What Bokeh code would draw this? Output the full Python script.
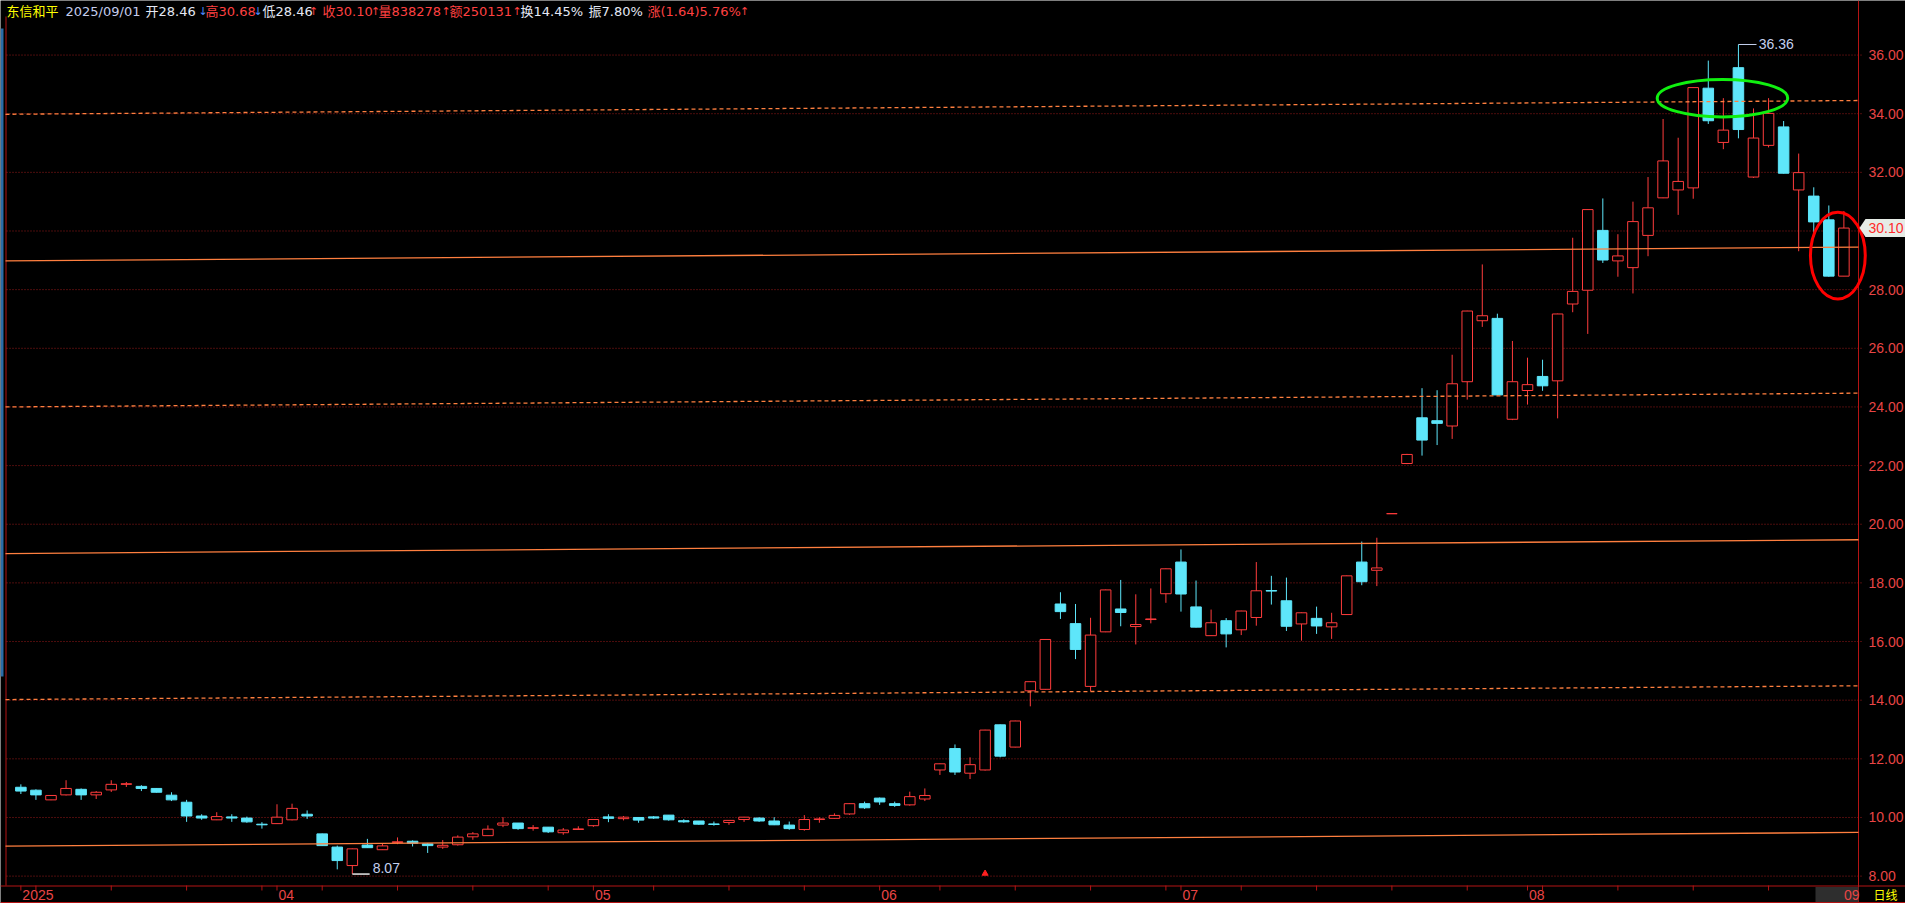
from bokeh.plotting import figure
from bokeh.models import Range1d, ColumnDataSource
from bokeh.core.properties import value
from bokeh.embed import file_html
from bokeh.resources import INLINE

# ---------------- data ----------------
stock_name = "东信和平"
quote_date = "2025/09/01"

opens = [11.03, 10.93, 10.60, 10.77, 10.96, 10.77, 10.94, 11.13, 11.06, 10.99,
         10.76, 10.52, 10.05, 9.92, 10.02, 9.98, 9.77, 9.79, 9.92, 10.11,
         9.44, 8.99, 8.36, 9.06, 8.90, 9.15, 9.19, 9.10, 8.99, 9.07,
         9.34, 9.38, 9.74, 9.81, 9.63, 9.67, 9.48, 9.59, 9.72, 10.02,
         9.96, 10.00, 10.02, 10.08, 9.89, 9.88, 9.78, 9.83, 9.93, 9.98,
         9.88, 9.74, 9.59, 9.93, 9.97, 10.12, 10.47, 10.66, 10.47, 10.43,
         10.63, 11.62, 12.35, 11.51, 11.62, 13.16, 12.40, 14.32, 14.37, 17.28,
         16.61, 14.47, 16.33, 17.11, 16.51, 16.75, 17.63, 18.71, 17.18, 16.20,
         16.71, 16.40, 16.82, 17.74, 17.39, 16.60, 16.79, 16.50, 16.92, 18.71,
         18.43, 20.36, 22.07, 23.63, 23.53, 23.35, 24.86, 26.94, 27.02, 23.58,
         24.56, 25.04, 24.89, 27.51, 27.98, 30.02, 28.98, 28.75, 29.85, 31.13,
         31.40, 31.47, 34.87, 33.02, 35.57, 31.84, 32.92, 33.55, 31.40, 31.19,
         30.38, 28.46]
highs = [11.13, 10.96, 10.76, 11.27, 10.99, 10.90, 11.27, 11.21, 11.10, 11.00,
         10.86, 10.60, 10.11, 10.18, 10.11, 10.03, 9.84, 10.45, 10.47, 10.24,
         9.45, 9.04, 8.94, 9.27, 9.10, 9.32, 9.22, 9.13, 9.23, 9.39,
         9.50, 9.73, 10.01, 9.81, 9.74, 9.67, 9.64, 9.70, 9.94, 10.11,
         10.05, 10.00, 10.05, 10.08, 9.94, 9.88, 9.86, 9.91, 10.02, 10.01,
         10.01, 9.86, 10.08, 10.01, 10.14, 10.48, 10.54, 10.68, 10.54, 10.88,
         10.99, 11.84, 12.49, 12.05, 12.99, 13.17, 13.30, 14.64, 16.08, 17.68,
         17.28, 16.81, 17.77, 18.10, 17.61, 17.81, 18.49, 19.14, 18.08, 17.09,
         16.80, 17.05, 18.71, 18.24, 18.18, 16.99, 17.19, 16.98, 18.25, 19.41,
         19.54, 20.36, 22.40, 24.64, 24.57, 25.78, 27.28, 28.86, 27.18, 26.25,
         25.68, 25.61, 27.18, 29.77, 30.74, 31.11, 29.89, 31.00, 31.84, 33.82,
         33.18, 34.90, 35.81, 34.53, 36.36, 34.18, 34.53, 33.75, 32.64, 31.49,
         30.87, 30.68]
lows = [10.80, 10.60, 10.59, 10.75, 10.60, 10.63, 10.87, 11.04, 10.90, 10.85,
        10.56, 9.85, 9.92, 9.91, 9.85, 9.82, 9.62, 9.78, 9.90, 9.95,
        9.03, 8.23, 8.07, 8.96, 8.89, 9.09, 9.01, 8.79, 8.93, 9.04,
        9.24, 9.37, 9.67, 9.58, 9.55, 9.47, 9.41, 9.58, 9.68, 9.84,
        9.90, 9.82, 9.95, 9.89, 9.82, 9.75, 9.72, 9.75, 9.85, 9.85,
        9.74, 9.58, 9.55, 9.82, 9.96, 10.09, 10.29, 10.43, 10.36, 10.40,
        10.56, 11.45, 11.45, 11.31, 11.60, 12.05, 12.39, 13.79, 14.36, 16.77,
        15.40, 14.30, 16.32, 16.52, 15.90, 16.62, 17.32, 17.02, 16.48, 16.19,
        15.80, 16.22, 16.54, 17.26, 16.36, 16.03, 16.26, 16.09, 16.91, 17.92,
        17.89, 20.36, 22.05, 22.34, 22.70, 22.91, 24.25, 26.73, 24.40, 23.55,
        24.08, 24.55, 23.61, 27.23, 26.49, 28.91, 28.44, 27.87, 29.14, 31.12,
        30.55, 31.10, 33.65, 32.79, 33.16, 31.81, 32.85, 31.96, 29.31, 29.80,
        28.44, 28.46]
closes = [10.90, 10.77, 10.75, 10.99, 10.77, 10.86, 11.13, 11.15, 10.99, 10.86,
          10.60, 10.05, 9.98, 10.03, 9.98, 9.85, 9.75, 10.01, 10.31, 10.05,
          9.04, 8.53, 8.93, 8.97, 9.03, 9.17, 9.12, 9.04, 9.05, 9.33,
          9.44, 9.60, 9.81, 9.62, 9.65, 9.51, 9.57, 9.61, 9.93, 9.97,
          10.01, 9.91, 9.98, 9.92, 9.85, 9.77, 9.76, 9.90, 10.01, 9.88,
          9.75, 9.62, 9.93, 9.95, 10.07, 10.47, 10.33, 10.53, 10.41, 10.71,
          10.75, 11.83, 11.55, 11.80, 12.98, 12.09, 13.29, 14.63, 16.07, 17.02,
          15.73, 16.22, 17.76, 16.99, 16.58, 16.77, 18.48, 17.62, 16.49, 16.64,
          16.26, 17.04, 17.73, 17.72, 16.52, 16.98, 16.53, 16.64, 18.24, 18.04,
          18.51, 20.36, 22.38, 22.87, 23.44, 24.79, 27.27, 27.11, 24.41, 24.86,
          24.76, 24.72, 27.17, 27.94, 30.73, 29.01, 29.15, 30.32, 30.79, 32.39,
          31.69, 34.89, 33.76, 33.44, 33.46, 33.17, 34.01, 31.97, 31.99, 30.31,
          28.46, 30.10]

month_idx = [0, 17, 38, 57, 77, 100, 121]
month_labels = ["2025", "04", "05", "06", "07", "08", "09"]
week_idx = [1, 6, 11, 16, 20, 25, 30, 35, 42, 47, 52, 61, 66, 71, 76, 81, 86,
            91, 96, 101, 106, 111, 116]
price_ticks = [8.0, 10.0, 12.0, 14.0, 16.0, 18.0, 20.0, 22.0, 24.0, 26.0, 28.0,
               30.0, 32.0, 34.0, 36.0]

# parallel channel levels (value at left edge, value at right edge)
channel_left = [9.02, 14.02, 19.00, 24.00, 28.98, 33.98]
channel_right = [9.49, 14.49, 19.47, 24.47, 29.45, 34.45]
channel_solid = [True, False, True, False, True, False]

header_texts = ["东信和平", "2025/09/01", "开28.46", "高30.68", "低28.46", "收30.10",
                "量838278", "额250131", "换14.45%", "振7.80%", "涨(1.64)5.76%"]
header_arrows = ["↓", "↓", "↑", "↑", "↑", "↑", "↑"]

# ---------------- styling / layout ----------------
UP = "#FF3C3C"
DOWN = "#5EE6FA"
ORANGE = "#FF7F3F"
GRID = "#9A1A1A"
AXIS = "#B41414"
AXTXT = "#E84545"
NOTE = "#C4D0EE"
YEL = "#FFFF00"
WHT = "#E4E8F4"
RED = "#FF4040"
BLU = "#4C8CFF"
header_colors = [YEL, "#C4CCEC", WHT, RED, WHT, RED, RED, RED, WHT, WHT, RED]
header_px = [6, 65, 145, 205, 262, 322, 378, 449, 520, 588, 647]
arrow_colors = [BLU, BLU, RED, RED, RED, RED, RED]
arrow_px = [202.5, 257.5, 313, 375, 445.5, 516.5, 744]
HDR_FONT = "DejaVu Sans, Noto Sans CJK SC"

W, H = 1905, 903
X0_PX, X1_PX = 5.0, 1858.0      # chart left edge / price-axis line (canvas px)
I0, I1 = -1.02, 121.97           # candle index at those edges
XPP = (I1 - I0) / (X1_PX - X0_PX)
Y_TOP_PX, Y_BOT_PX = 22.0, 885.0  # chart top / time-axis line (canvas px)
P_TOP, P_BOT = 37.11, 7.68
YPP = (P_TOP - P_BOT) / (Y_BOT_PX - Y_TOP_PX)


def px_x(px):
    return I0 + (px - X0_PX) * XPP


def px_y(py):
    return P_TOP - (py - Y_TOP_PX) * YPP


p = figure(width=W, height=H, x_range=Range1d(px_x(0), px_x(W)),
           y_range=Range1d(px_y(H), px_y(0)),
           output_backend="svg", toolbar_location=None,
           x_axis_location=None, y_axis_location=None,
           background_fill_color="black", border_fill_color="black",
           outline_line_color=None, min_border=0)
p.grid.visible = False

# ---------------- price grid & price axis ----------------
p.segment(x0=[px_x(X0_PX + 1)] * len(price_ticks), y0=price_ticks,
          x1=[px_x(X1_PX + 3)] * len(price_ticks), y1=price_ticks,
          line_color=GRID, line_width=1, line_dash="1 2")
p.text(x=[px_x(X1_PX + 10)] * len(price_ticks), y=price_ticks,
       text=[f"{t:.2f}" for t in price_ticks], text_color=AXTXT,
       text_font=value("Liberation Sans"), text_font_size="14px",
       text_baseline="middle", text_align="left")
# frame lines
p.segment(x0=[I1, px_x(X0_PX + 0.5)], y0=[px_y(0), px_y(Y_BOT_PX)],
          x1=[I1, px_x(X0_PX + 0.5)], y1=[px_y(H), px_y(Y_TOP_PX - 6)],
          line_color=AXIS, line_width=1)
p.segment(x0=[px_x(0), px_x(0)], y0=[px_y(Y_BOT_PX + 0.5), px_y(H - 1)],
          x1=[px_x(W), px_x(W)], y1=[px_y(Y_BOT_PX + 0.5), px_y(H - 1)],
          line_color=AXIS, line_width=1.2)
# window edge strip at the far left
p.quad(left=[px_x(0)], right=[px_x(3)], top=[px_y(28)], bottom=[px_y(676)],
       fill_color="#2A6CA8", line_color=None)

# ---------------- time axis ----------------
all_ticks = sorted(week_idx + month_idx[:-1])
p.segment(x0=all_ticks, y0=[px_y(Y_BOT_PX)] * len(all_ticks),
          x1=all_ticks, y1=[px_y(Y_BOT_PX + 5)] * len(all_ticks),
          line_color=AXIS, line_width=1)
n = len(opens)
p.quad(left=[px_x(1815)], right=[I1], top=[px_y(Y_BOT_PX + 1.5)], bottom=[px_y(H - 1.5)],
       fill_color="#2E2E2E", line_color=None)
band_mid = px_y((Y_BOT_PX + H) / 2)
p.text(x=month_idx[:-1], y=[band_mid] * (len(month_idx) - 1), text=month_labels[:-1],
       x_offset=1.5, text_color=AXTXT, text_font=value("Liberation Sans"),
       text_font_size="14px", text_baseline="middle", text_align="left")
p.text(x=[px_x(1859)], y=[band_mid], text=[month_labels[-1]], text_color=AXTXT,
       text_font=value("Liberation Sans"), text_font_size="14px",
       text_baseline="middle", text_align="right")
p.text(x=[px_x(1873)], y=[band_mid], text=["日线"], text_color=YEL,
       text_font=value("Noto Sans CJK SC"), text_font_size="12px",
       text_baseline="middle", text_align="left")

# ---------------- candles ----------------
xs = list(range(n))
is_up = [c >= o for o, c in zip(opens, closes)]
src = ColumnDataSource(dict(
    x=xs,
    left=[x - 0.35 for x in xs],
    right=[x + 0.35 for x in xs],
    top=[max(o, c) for o, c in zip(opens, closes)],
    bottom=[min(o, c) for o, c in zip(opens, closes)],
    high=highs, low=lows,
    color=[UP if u else DOWN for u in is_up],
    fill=["black" if u else DOWN for u in is_up],
))
p.segment(x0="x", y0="low", x1="x", y1="high", line_color="color", line_width=1, source=src)
p.quad(left="left", right="right", top="top", bottom="bottom", fill_color="fill",
       line_color="color", line_width=1, source=src)

# ---------------- channel lines ----------------
for lv0, lv1, solid in zip(channel_left, channel_right, channel_solid):
    p.line([I0, I1], [lv0, lv1], line_color=ORANGE, line_width=1.3,
           line_dash="solid" if solid else "4 3")

# ---------------- highlights ----------------
p.ellipse(x=[112.94], y=[34.53], width=[8.66], height=[1.28], fill_alpha=0,
          line_color="#10F010", line_width=3)
p.ellipse(x=[120.6], y=[29.16], width=[3.64], height=[2.95], fill_alpha=0,
          line_color="#FF0000", line_width=3)

# event marker
p.scatter(x=[64], y=[px_y(873)], marker="triangle", size=6, color="#FF2020")

# ---------------- high / low notes ----------------
hi_i = max(range(n), key=lambda i: highs[i])
lo_i = min(range(n), key=lambda i: lows[i])
p.segment(x0=[hi_i], y0=[highs[hi_i]], x1=[hi_i + 1.2], y1=[highs[hi_i]],
          line_color=NOTE, line_width=1)
p.text(x=[hi_i + 1.35], y=[highs[hi_i]], text=[f"{highs[hi_i]:.2f}"], text_color=NOTE,
       text_font=value("Liberation Sans"), text_font_size="14px", text_baseline="middle")
p.segment(x0=[lo_i], y0=[lows[lo_i]], x1=[lo_i + 1.15], y1=[lows[lo_i]],
          line_color="#E8E8E8", line_width=1.5)
p.text(x=[lo_i + 1.35], y=[lows[lo_i]], text=[f"{lows[lo_i]:.2f}"], text_color=NOTE,
       text_font=value("Liberation Sans"), text_font_size="14px", text_baseline="bottom",
       y_offset=-1)

# ---------------- last price tag ----------------
last = closes[-1]
hh = 9 * YPP
p.patch(x=[px_x(X1_PX + 1), px_x(X1_PX + 7), px_x(W), px_x(W), px_x(X1_PX + 7)],
        y=[last, last + hh, last + hh, last - hh, last - hh],
        fill_color="#E6ECE6", line_color=None)
p.text(x=[px_x(X1_PX + 10)], y=[last], text=[f"{last:.2f}"], text_color="#FF2A2A",
       text_font=value("Liberation Sans"), text_font_size="14px",
       text_baseline="middle", text_align="left")

# ---------------- header ----------------
p.text(x=[px_x(v) for v in header_px], y=[px_y(11)] * len(header_texts), text=header_texts,
       text_color=header_colors, text_font=value(HDR_FONT),
       text_font_size="13px", text_baseline="middle", text_align="left")
p.text(x=[px_x(v) for v in arrow_px], y=[px_y(11)] * len(header_arrows), text=header_arrows,
       text_color=arrow_colors, text_font=value("DejaVu Sans"),
       text_font_size="11px", text_baseline="middle", text_align="center")

open("out.html", "w", encoding="utf-8").write(file_html(p, INLINE))
